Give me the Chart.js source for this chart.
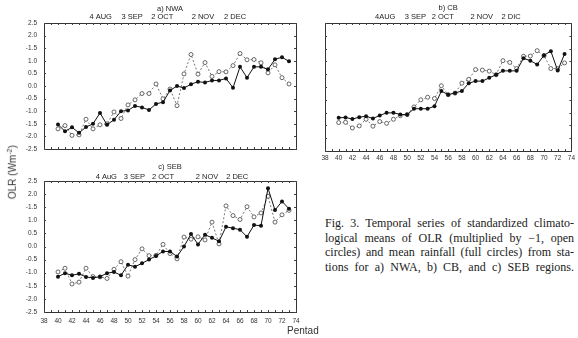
<!DOCTYPE html>
<html>
<head>
<meta charset="utf-8">
<script src="https://cdn.jsdelivr.net/npm/chart.js@4.4.1/dist/chart.umd.min.js"></script>
<style>
  body { margin: 0; background: #fff; width: 578px; height: 338px; position: relative; overflow: hidden; font-family: "Liberation Sans", Arial, sans-serif; }
  canvas { position: absolute; }
  #cA { left: 0; top: 0; }
  #cB { left: 300px; top: 0; }
  #cC { left: 0; top: 158px; }
  #ylab { position: absolute; left: -33px; top: 166px; width: 90px; text-align: center; font-size: 10px; color: #333; transform: rotate(-90deg); }
  #ylab sup { font-size: 7px; }
  #xlab { position: absolute; left: 287px; top: 325px; font-size: 10px; color: #333; }
  #caption { position: absolute; left: 325px; top: 216px; width: 249px; font-family: "Liberation Serif", "Times New Roman", serif; font-size: 12px; line-height: 14.6px; color: #222; }
  #caption div { text-align: justify; text-align-last: justify; white-space: nowrap; }
</style>
</head>
<body>
<canvas id="cA" width="310" height="160"></canvas>
<canvas id="cB" width="278" height="168"></canvas>
<canvas id="cC" width="310" height="172"></canvas>
<div id="ylab">OLR (Wm<sup>-2</sup>)</div>
<div id="xlab">Pentad</div>
<div id="caption">
  <div>Fig. 3. Temporal series of standardized climato-</div>
  <div>logical means of OLR (multiplied by &minus;1, open</div>
  <div>circles) and mean rainfall (full circles) from sta-</div>
  <div>tions for a) NWA, b) CB, and c) SEB regions.</div>
</div>
<script>
// pentads 40..73
const pentads = [40, 41, 42, 43, 44, 45, 46, 47, 48, 49, 50, 51, 52, 53, 54, 55, 56,
                 57, 58, 59, 60, 61, 62, 63, 64, 65, 66, 67, 68, 69, 70, 71, 72, 73];

// a) NWA
const rainNWA = [-1.53, -1.80, -1.64, -1.86, -1.63, -1.50, -1.07, -1.54, -1.34, -1.00, -0.97, -0.79, -0.85, -0.95, -0.71, -0.64, -0.18,
                 0.00, -0.08, 0.07, 0.17, 0.14, 0.22, 0.22, 0.30, -0.07, 0.76, 0.33, 0.76, 0.76, 0.66, 1.06, 1.14, 0.98];
const olrNWA = [-1.70, -1.57, -1.96, -1.94, -1.32, -1.70, -1.54, -1.50, -1.03, -1.29, -0.75, -0.55, -0.30, -0.30, 0.08, -0.51, -0.12,
                -0.78, 0.48, 1.25, 0.47, 0.93, 0.38, 0.57, 0.56, 0.81, 1.29, 1.04, 1.05, 0.92, 0.52, 0.84, 0.33, 0.08];

// b) CB
const rainCB = [-1.20, -1.19, -1.25, -1.18, -1.14, -1.23, -1.11, -1.01, -1.01, -1.07, -1.08, -0.85, -0.85, -0.85, -0.75, -0.16, -0.30,
                -0.23, -0.16, 0.15, 0.23, 0.23, 0.36, 0.48, 0.63, 0.63, 0.63, 1.12, 1.03, 0.88, 1.24, 1.40, 0.64, 1.29];
const olrCB = [-1.39, -1.38, -1.60, -1.52, -1.26, -1.53, -1.35, -1.42, -1.26, -1.12, -1.07, -0.78, -0.50, -0.40, -0.45, 0.05, -0.30,
               -0.24, 0.15, 0.30, 0.68, 0.66, 0.62, 0.48, 1.03, 0.96, 0.72, 1.20, 1.21, 1.42, 1.22, 0.72, 0.72, 0.94];

// c) SEB
const rainSEB = [-1.15, -1.02, -1.10, -1.04, -1.16, -1.20, -1.15, -1.02, -0.97, -1.10, -0.70, -0.77, -0.64, -0.50, -0.36, -0.19, -0.19,
                 -0.38, 0.00, 0.48, 0.08, 0.45, 0.33, 0.20, 0.75, 0.70, 0.64, 0.37, 0.82, 0.79, 2.22, 1.39, 1.72, 1.44];
const olrSEB = [-0.97, -0.83, -1.43, -1.36, -0.83, -1.15, -1.16, -1.22, -0.87, -0.58, -1.13, -0.50, -0.09, -0.35, -0.34, 0.08, -0.27,
                -0.47, 0.36, 0.28, 0.37, 0.25, 0.93, 0.10, 1.55, 1.18, 1.03, 1.52, 1.13, 1.28, 1.92, 0.93, 1.21, 1.38];

// tick labels as printed (the 1.5 tick reads "-1.5" in the figure)
const yTickLabels = ['-2.5', '-2.0', '-1.5', '-1.0', '-0.5', '0.0', '0.5', '1.0', '-1.5', '2.0', '2.5'];

// month markers above each panel (pentad positions)
const monthLabelsA = ['4 AUG', '3 SEP', '2 OCT', '2 NOV', '2 DEC'];
const monthPentadsA = [46.1, 50.6, 54.9, 60.7, 65.3];
const monthLabelsB = ['4AUG', '3 SEP', '2 OCT', '2 NOV', '2 DIC'];
const monthPentadsB = [46.8, 51.2, 55.2, 60.9, 65.2];
const monthLabelsC = ['4 AuG', '3 SEP', '2 OCT', '2 NOV', '2 DEC'];
const monthPentadsC = [46.9, 50.9, 55.0, 61.3, 65.6];

const FONT = '"Liberation Sans", Arial, sans-serif';
const frameColor = '#333';

// small tick marks pointing into the plot box, Statistica style
const innerTicks = {
    id: 'innerTicks',
    beforeDatasetsDraw(chart) {
        const { ctx, chartArea: a, scales } = chart;
        const x = scales.x, y = scales.y;
        ctx.save();
        ctx.strokeStyle = '#444';
        ctx.lineWidth = 1;
        ctx.beginPath();
        x.ticks.forEach(t => {
            const px = Math.round(x.getPixelForValue(t.value)) + 0.5;
            ctx.moveTo(px, a.bottom); ctx.lineTo(px, a.bottom - 2);
            ctx.moveTo(px, a.top); ctx.lineTo(px, a.top + 2);
        });
        y.ticks.forEach(t => {
            const py = Math.round(y.getPixelForValue(t.value)) + 0.5;
            ctx.moveTo(a.left, py); ctx.lineTo(a.left + 2, py);
            ctx.moveTo(a.right, py); ctx.lineTo(a.right - 2, py);
        });
        ctx.stroke();
        ctx.restore();
    }
};

function makePanel(id, p) {
    const ctx = document.getElementById(id).getContext('2d');
    const toPts = arr => pentads.map((v, i) => ({ x: v, y: arr[i] }));

    return new Chart(ctx, {
        type: 'line',
        data: {
            datasets: [{
                label: 'rain',
                data: toPts(p.rain),
                borderColor: '#111',
                borderWidth: 1,
                pointRadius: 2,
                pointBackgroundColor: '#111',
                pointBorderColor: '#111',
                pointBorderWidth: 0,
                tension: 0
            }, {
                label: 'olr',
                data: toPts(p.olr),
                borderColor: '#555',
                borderWidth: 0.8,
                borderDash: [2, 2],
                pointRadius: 2,
                pointBackgroundColor: '#fff',
                pointBorderColor: '#444',
                pointBorderWidth: 0.8,
                tension: 0
            }]
        },
        options: {
            responsive: false,
            animation: false,
            devicePixelRatio: 1,
            clip: false,
            layout: { padding: 0 },
            plugins: { legend: { display: false }, title: { display: false }, tooltip: { enabled: false } },
            scales: {
                x: {
                    type: 'linear', position: 'bottom', min: 38, max: 74,
                    afterFit: s => { s.height = p.bottom; },
                    grid: { display: false, drawTicks: false },
                    border: { display: true, color: frameColor, width: 1 },
                    ticks: {
                        display: p.showX, stepSize: 1, autoSkip: false, maxRotation: 0, padding: p.xPad,
                        color: '#333', font: { family: FONT, size: 6.5 },
                        callback: v => (v % 2 === 0 ? String(v) : '')
                    }
                },
                top: {
                    type: 'linear', position: 'top', min: 38, max: 74,
                    afterFit: s => { s.height = p.top; },
                    afterBuildTicks: s => { s.ticks = p.monthPos.map(v => ({ value: v })); },
                    grid: { display: false, drawTicks: false },
                    border: { display: true, color: frameColor, width: 1 },
                    title: { display: true, text: p.title, color: '#222', font: { family: FONT, size: 7.5 }, padding: { top: p.titlePad, bottom: 0 } },
                    ticks: {
                        autoSkip: false, maxRotation: 0, padding: p.monthPad, color: '#222',
                        font: { family: FONT, size: 7.5 },
                        callback: (v, i) => p.months[i]
                    }
                },
                y: {
                    type: 'linear', position: 'left', min: -2.5, max: 2.5,
                    afterFit: s => { s.width = p.left; },
                    grid: { display: false, drawTicks: false },
                    border: { display: true, color: frameColor, width: 1 },
                    ticks: {
                        display: p.showY, stepSize: 0.5, padding: 7, color: '#333',
                        font: { family: FONT, size: 6.5 },
                        callback: (v, i) => yTickLabels[i]
                    }
                },
                right: {
                    type: 'linear', position: 'right', min: -2.5, max: 2.5,
                    afterFit: s => { s.width = p.right; },
                    grid: { display: false, drawTicks: false },
                    border: { display: true, color: frameColor, width: 1 },
                    ticks: { display: false }
                }
            }
        },
        plugins: [innerTicks]
    });
}

makePanel('cA', {
    title: 'a) NWA', rain: rainNWA, olr: olrNWA, months: monthLabelsA, monthPos: monthPentadsA,
    left: 44, right: 14, top: 23, bottom: 11, showX: false, showY: true, xPad: 4, titlePad: 4, monthPad: 2
});
makePanel('cB', {
    title: 'b) CB', rain: rainCB, olr: olrCB, months: monthLabelsB, monthPos: monthPentadsB,
    left: 25, right: 5, top: 23, bottom: 17, showX: true, showY: false, xPad: 3, titlePad: 3, monthPad: 2
});
makePanel('cC', {
    title: 'c) SEB', rain: rainSEB, olr: olrSEB, months: monthLabelsC, monthPos: monthPentadsC,
    left: 44, right: 14, top: 23, bottom: 18, showX: true, showY: true, xPad: 5, titlePad: 4, monthPad: 0
});
</script>
</body>
</html>
